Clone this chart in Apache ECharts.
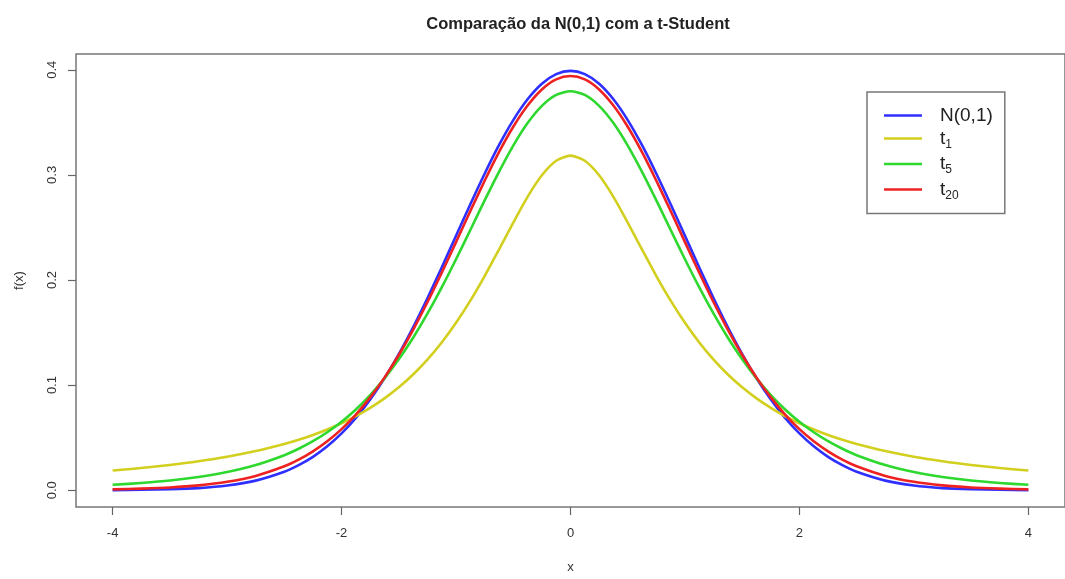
<!DOCTYPE html>
<html>
<head>
<meta charset="utf-8">
<script src="https://cdn.jsdelivr.net/npm/echarts@6/dist/echarts.min.js"></script>
<style>
html,body{margin:0;padding:0;background:#fff;}
#c{width:1065px;height:579px;}
</style>
</head>
<body>
<div id="c"></div>
<script>
// x values for the right half (0 .. 4); the curves are symmetric, left half mirrored
const xHalf    = [0,0.125,0.25,0.375,0.5,0.625,0.75,0.875,1,1.125,1.25,1.375,1.5,1.625,1.75,1.875,2,2.125,2.25,2.375,2.5,2.75,3,3.25,3.5,3.75,4];
const normHalf = [0.3989,0.3958,0.3867,0.3719,0.3521,0.3282,0.3011,0.2721,0.2420,0.2119,0.1826,0.1550,0.1295,0.1065,0.0863,0.0688,0.0540,0.0417,0.0317,0.0238,0.0175,0.0091,0.0044,0.0020,0.0009,0.0004,0.0001];
const t1Half   = [0.3183,0.3134,0.2996,0.2791,0.2546,0.2289,0.2037,0.1803,0.1592,0.1405,0.1242,0.1101,0.0979,0.0874,0.0784,0.0705,0.0637,0.0577,0.0525,0.0479,0.0439,0.0372,0.0318,0.0275,0.0240,0.0211,0.0187];
const t5Half   = [0.3796,0.3761,0.3657,0.3493,0.3279,0.3029,0.2757,0.2476,0.2197,0.1929,0.1679,0.1450,0.1245,0.1064,0.0905,0.0768,0.0651,0.0551,0.0466,0.0394,0.0333,0.0239,0.0173,0.0126,0.0092,0.0069,0.0051];
const t20Half  = [0.3940,0.3908,0.3813,0.3660,0.3458,0.3216,0.2944,0.2656,0.2360,0.2069,0.1788,0.1526,0.1286,0.1071,0.0883,0.0720,0.0581,0.0465,0.0369,0.0290,0.0227,0.0136,0.0080,0.0046,0.0026,0.0015,0.0008];
const seriesNames = ['N(0,1)','t1','t5','t20'];
const xTicks = [-4,-2,0,2,4];
const yTicks = [0,0.1,0.2,0.3,0.4];
const colors = ['#2f2fff','#d2cf1e','#2ed82e','#ee2222'];

function fullPairs(half){
  const pts = [];
  for(let i=xHalf.length-1;i>0;i--) pts.push([-xHalf[i], half[i]]);
  for(let i=0;i<xHalf.length;i++) pts.push([xHalf[i], half[i]]);
  return pts;
}
const allData = [normHalf,t1Half,t5Half,t20Half].map(fullPairs);

const chart = echarts.init(document.getElementById('c'));
const font = '"Liberation Sans", Arial, sans-serif';
chart.setOption({
  animation:false,
  backgroundColor:'#fff',
  title:{
    text:'Comparação da N(0,1) com a t-Student',
    left:573, top:11, textAlign:'center',
    textStyle:{fontFamily:font,fontWeight:'bold',fontSize:16.5,color:'#222'}
  },
  grid:{left:76, top:54, width:1001, height:462, show:true, borderColor:'#777', borderWidth:1.5, containLabel:false},
  xAxis:{
    type:'value', min:-4.32, max:4.32,
    name:'x', nameLocation:'middle', nameGap:54,
    nameTextStyle:{fontFamily:font,fontSize:13,color:'#333'},
    axisLine:{show:false, onZero:false},
    splitLine:{show:false},
    axisTick:{show:true, inside:false, length:8, customValues:xTicks, lineStyle:{color:'#666',width:1.2}},
    axisLabel:{customValues:xTicks, margin:20, fontFamily:font, fontSize:13, color:'#333',
      formatter:v=>String(v)}
  },
  yAxis:{
    type:'value', min:-0.016, max:0.415,
    name:'f(x)', nameLocation:'middle', nameGap:50, nameRotate:90,
    nameTextStyle:{fontFamily:font,fontSize:13,color:'#333'},
    axisLine:{show:false, onZero:false},
    splitLine:{show:false},
    axisTick:{show:true, inside:false, length:8, customValues:yTicks, lineStyle:{color:'#666',width:1.2}},
    axisLabel:{customValues:yTicks, margin:17, rotate:90, fontFamily:font, fontSize:13, color:'#333',
      formatter:v=>v.toFixed(1)}
  },
  legend:{
    orient:'vertical', left:867, top:92,
    padding:[14,12,12,17],
    borderColor:'#777', borderWidth:1.5,
    itemWidth:38, itemHeight:2.5, itemGap:4,
    icon:'rect',
    data:seriesNames,
    formatter:function(n){
      if(n==='N(0,1)') return '{m|N(0,1)}';
      return '{m|t}{s|'+n.slice(1)+'}';
    },
    textStyle:{fontFamily:font,fontSize:19,color:'#222',
      rich:{
        m:{fontFamily:font,fontSize:19,color:'#222',lineHeight:24,padding:[0,0,0,13],verticalAlign:'middle'},
        s:{fontFamily:font,fontSize:12,color:'#222',lineHeight:11,verticalAlign:'bottom'}
      }}
  },
  series:seriesNames.map((n,i)=>({
    name:n, type:'line', data:allData[i], smooth:0.25, showSymbol:false,
    lineStyle:{color:colors[i], width:2.6, join:'round'}, itemStyle:{color:colors[i]}
  }))
});
</script>
</body>
</html>
